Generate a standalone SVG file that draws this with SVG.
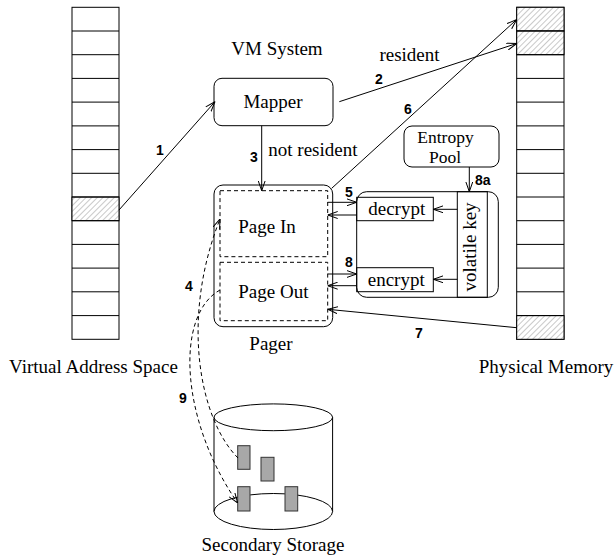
<svg xmlns="http://www.w3.org/2000/svg" width="616" height="559" viewBox="0 0 616 559">
<style>
.t{font-family:"Liberation Serif","Times New Roman",serif;font-size:19px;fill:#000}
.ep{font-size:17.5px}
.n{font-family:"Liberation Sans",Arial,sans-serif;font-size:14px;font-weight:bold;fill:#000}
.box{fill:none;stroke:#000;stroke-width:1}
.cell{fill:#fff;stroke:#000;stroke-width:1}
.dash{fill:none;stroke:#000;stroke-width:1;stroke-dasharray:4 3}
.c{fill:none;stroke:#000;stroke-width:1;marker-end:url(#ah)}
.cd{fill:none;stroke:#000;stroke-width:1;stroke-dasharray:4 3}
.blk{fill:#a8a8a8;stroke:#333;stroke-width:1}
</style>
<defs>
<pattern id="hatch" patternUnits="userSpaceOnUse" width="4" height="4" patternTransform="rotate(45)">
<rect width="4" height="4" fill="#fff"/>
<line x1="0" y1="0" x2="0" y2="4" stroke="#777" stroke-width="0.8"/>
</pattern>
<marker id="ah" viewBox="0 0 10 8" refX="10" refY="4" markerWidth="10" markerHeight="8" markerUnits="userSpaceOnUse" orient="auto">
<path d="M0,0.5 L10,4 L0,7.5" fill="none" stroke="#000" stroke-width="1"/>
</marker>
</defs>
<rect width="616" height="559" fill="#fff"/>

<g id="virtual-address-space">
<rect class="cell" x="72" y="7.3" width="47" height="332"/>
<rect x="72" y="197" width="47" height="23.7" fill="url(#hatch)" stroke="#000"/>
<path class="box" d="M72,31H119M72,54.7H119M72,78.4H119M72,102.1H119M72,125.9H119M72,149.6H119M72,173.3H119M72,197H119M72,220.7H119M72,244.4H119M72,268.1H119M72,291.8H119M72,315.6H119"/>
<text class="t" x="93.5" y="373" text-anchor="middle">Virtual Address Space</text>
</g>

<g id="physical-memory">
<rect class="cell" x="516.7" y="7.3" width="47.3" height="332"/>
<rect x="516.7" y="7.3" width="47.3" height="23.7" fill="url(#hatch)" stroke="#000"/>
<rect x="516.7" y="31" width="47.3" height="23.7" fill="url(#hatch)" stroke="#000"/>
<rect x="516.7" y="315.6" width="47.3" height="23.7" fill="url(#hatch)" stroke="#000"/>
<path class="box" d="M516.7,31H564M516.7,54.7H564M516.7,78.4H564M516.7,102.1H564M516.7,125.9H564M516.7,149.6H564M516.7,173.3H564M516.7,197H564M516.7,220.7H564M516.7,244.4H564M516.7,268.1H564M516.7,291.8H564M516.7,315.6H564"/>
<text class="t" x="546" y="373" text-anchor="middle">Physical Memory</text>
</g>

<g id="vm-system-label">
<text class="t" x="277" y="55" text-anchor="middle">VM System</text>
</g>

<g id="mapper">
<rect class="box" x="214" y="78.3" width="119" height="47.4" rx="8"/>
<text class="t" x="273" y="108.3" text-anchor="middle">Mapper</text>
</g>

<g id="entropy-pool">
<rect class="box" x="404" y="126" width="95" height="41" rx="8"/>
<text class="t ep" x="445.5" y="143" text-anchor="middle">Entropy</text>
<text class="t ep" x="445" y="163" text-anchor="middle">Pool</text>
</g>

<g id="pager">
<rect class="box" x="214" y="185" width="118.7" height="141.7" rx="9"/>
<text class="t" x="271" y="350" text-anchor="middle">Pager</text>
</g>
<g id="page-in">
<rect class="dash" x="220" y="190.7" width="107.7" height="66"/>
<text class="t" x="238.3" y="232.7">Page In</text>
</g>
<g id="page-out">
<rect class="dash" x="220" y="262.3" width="107.7" height="58.4"/>
<text class="t" x="238.3" y="297.7">Page Out</text>
</g>

<g id="crypto">
<rect class="box" x="356.7" y="191.7" width="141.6" height="105.6" rx="10"/>
</g>
<g id="volatile-key">
<rect class="box" x="457.3" y="191.7" width="30" height="105.6"/>
<text class="t" x="0" y="0" text-anchor="middle" transform="translate(475.5,247) rotate(-90)">volatile key</text>
</g>
<g id="decrypt">
<rect class="box" x="356.7" y="197.3" width="76.6" height="23.4"/>
<text class="t" x="396.7" y="215" text-anchor="middle">decrypt</text>
</g>
<g id="encrypt">
<rect class="box" x="356.7" y="267.7" width="76.6" height="24"/>
<text class="t" x="396.2" y="286" text-anchor="middle">encrypt</text>
</g>

<g id="secondary-storage">
<ellipse class="box" cx="273.3" cy="511.5" rx="59.3" ry="18"/>
<path class="box" d="M214,417.3V511.5M332.6,417.3V511.5"/>
<ellipse class="box" cx="273.3" cy="417.3" rx="59.3" ry="13.4"/>
<rect class="blk" x="237.7" y="445.7" width="12.3" height="23.6"/>
<rect class="blk" x="261" y="457.3" width="13" height="23.7"/>
<rect class="blk" x="237.7" y="486.7" width="12.3" height="24.3"/>
<rect class="blk" x="285" y="486.7" width="12.7" height="24.3"/>
<text class="t" x="273" y="551" text-anchor="middle">Secondary Storage</text>
</g>

<g id="connectors">
<line class="c" x1="119" y1="210" x2="215" y2="101.7"/>
<line class="c" x1="339.3" y1="101.7" x2="516.7" y2="43.5"/>
<line class="c" x1="261.7" y1="125.7" x2="261.7" y2="190.7"/>
<line class="c" x1="331.7" y1="188.3" x2="516.7" y2="19.5"/>
<line class="c" x1="327.7" y1="202.3" x2="356.7" y2="202.3"/>
<line class="c" x1="356.7" y1="215" x2="327.7" y2="215"/>
<line class="c" x1="327.7" y1="274" x2="356.7" y2="274"/>
<line class="c" x1="356.7" y1="285.7" x2="327.7" y2="285.7"/>
<line class="c" x1="457.3" y1="209.3" x2="433.3" y2="209.3"/>
<line class="c" x1="457.3" y1="279.3" x2="433.3" y2="279.3"/>
<line class="c" x1="469.3" y1="167" x2="469.3" y2="191.7"/>
<line class="c" x1="516.7" y1="327.7" x2="327.7" y2="309.3"/>
<path class="cd" d="M238,458 C200,420 180,320 220,219" marker-end="url(#ah)"/>
<path class="cd" d="M220,290 C175,315 180,420 237.7,503" marker-end="url(#ah)"/>
<text class="n" x="156" y="155">1</text>
<text class="n" x="375" y="84.3">2</text>
<text class="t" x="409.5" y="61" text-anchor="middle">resident</text>
<text class="n" x="250" y="161.7">3</text>
<text class="t" x="268.3" y="155.7">not resident</text>
<text class="n" x="185" y="290.7">4</text>
<text class="n" x="345" y="196.7">5</text>
<text class="n" x="404" y="114.3">6</text>
<text class="n" x="415" y="338.3">7</text>
<text class="n" x="345" y="267.3">8</text>
<text class="n" x="475" y="184.7">8a</text>
<text class="n" x="179" y="402.7">9</text>
</g>
</svg>
